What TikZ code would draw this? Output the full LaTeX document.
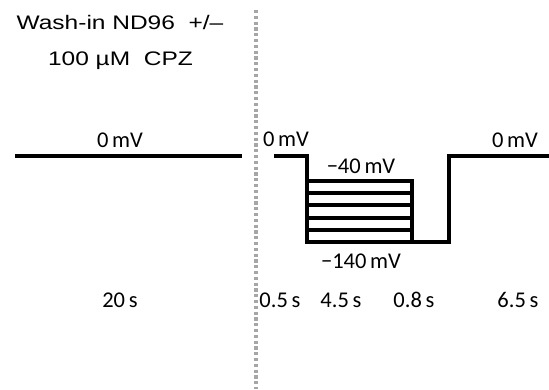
\documentclass[tikz,border=0pt]{standalone}
\usepackage{fontspec}
\setmainfont{Carlito}
\newfontfamily\arialf{Liberation Sans}[FakeStretch=1.25]
\begin{document}
\begin{tikzpicture}[x=1pt,y=-1pt,
  wave/.style={line width=4pt,black},
  lbl/.style={font=\fontsize{22.5}{26}\selectfont,inner sep=0pt,anchor=base},
  ttl/.style={font=\arialf\fontsize{19.6}{24}\selectfont,inner sep=0pt,anchor=base}]
\useasboundingbox (0,0) rectangle (549,389);
% dotted divider
\coordinate (dtop) at (256,10);
\coordinate (dbot) at (256,389);
\draw[line width=3.2pt,gray!70,dash pattern=on 3.2pt off 2.6pt] (dtop) -- (dbot);
% title
\node[ttl] (t1) at (120,29) {Wash-in ND96\ \ +/–};
\node[ttl] (t2) at (120.5,65) {100 µM\ \ CPZ};
% left holding
\coordinate (l0) at (15,156);
\coordinate (l1) at (242,156);
\draw[wave] (l0) -- (l1);
% right protocol
\coordinate (a0) at (274,156);
\coordinate (a1) at (307,156);
\coordinate (a2) at (307,242);
\coordinate (a3) at (449,242);
\coordinate (a4) at (449,156);
\coordinate (a5) at (549,156);
\draw[wave,line join=miter] (a0) -- (a1) -- (a2) -- (a3) -- (a4) -- (a5);
\foreach \i in {0,...,4}{
  \draw[wave] (307,{181+\i*12.2}) -- (411.5,{181+\i*12.2});
}
\draw[wave] (411.5,179) -- (411.5,242);
% labels
\node[lbl] (v1) at (120,147) {0\,mV};
\node[lbl] (v2) at (286,146) {0\,mV};
\node[lbl] (v3) at (515,147) {0\,mV};
\node[lbl] (v4) at (361,173) {−40\,mV};
\node[lbl] (v5) at (361,268) {−140\,mV};
\node[lbl] (s1) at (120,307) {20\,s};
\node[lbl] (s2) at (280,307) {0.5\,s};
\node[lbl] (s3) at (341,307) {4.5\,s};
\node[lbl] (s4) at (414,307) {0.8\,s};
\node[lbl] (s5) at (518,307) {6.5\,s};
\end{tikzpicture}
\end{document}
